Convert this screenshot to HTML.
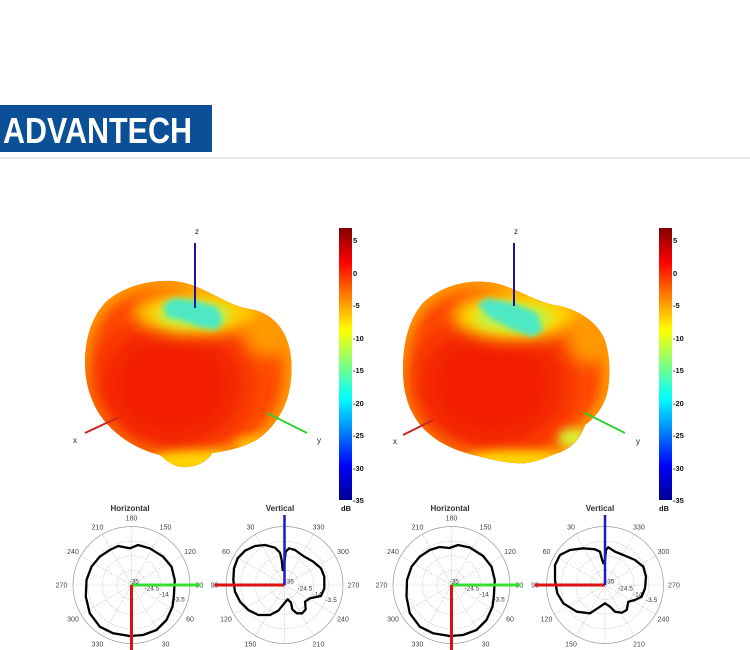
<!DOCTYPE html>
<html><head><meta charset="utf-8"><style>
html,body{margin:0;padding:0;background:#fff;}
body{width:750px;height:650px;overflow:hidden;}
svg{display:block;}
text{font-family:"Liberation Sans",Arial,sans-serif;}
</style></head><body>
<svg width="750" height="650" viewBox="0 0 750 650" xmlns="http://www.w3.org/2000/svg">
<defs>
 <filter id="b3" x="-50%" y="-50%" width="200%" height="200%"><feGaussianBlur stdDeviation="3"/></filter>
 <filter id="b5" x="-50%" y="-50%" width="200%" height="200%"><feGaussianBlur stdDeviation="5"/></filter>
 <filter id="b8" x="-50%" y="-50%" width="200%" height="200%"><feGaussianBlur stdDeviation="8"/></filter>
 <filter id="b18" x="-50%" y="-50%" width="200%" height="200%"><feGaussianBlur stdDeviation="18"/></filter>
 <linearGradient id="jet" x1="0" y1="1" x2="0" y2="0">
  <stop offset="0" stop-color="#00008f"/>
  <stop offset="0.125" stop-color="#0000ff"/>
  <stop offset="0.375" stop-color="#00ffff"/>
  <stop offset="0.625" stop-color="#ffff00"/>
  <stop offset="0.875" stop-color="#ff0000"/>
  <stop offset="1" stop-color="#800000"/>
 </linearGradient>
 <clipPath id="s1"><path id="p1" d="M85,363 C85,338 92,315 108,300 C125,286 150,280 172,281 C188,282 200,288 214,295 C226,301 236,307 250,309 C268,312 282,324 288,343 C294,362 292,390 284,407 C277,422 268,432 258,439 C245,447 228,451 212,453 C208,461 196,468 182,467 C172,466 166,460 160,455 C140,450 122,440 108,425 C94,410 85,388 85,363 Z"/></clipPath>
 <clipPath id="s2"><path d="M403,370 C403,345 408,318 425,301 C443,286 465,280 487,282 C500,283 510,288 522,293 C533,298 545,304 560,306 C578,310 597,322 604,338 C611,355 611,385 605,400 C600,412 592,420 585,425 C580,440 570,450 555,454 C540,460 528,465 515,463 C500,462 490,459 478,456 C460,452 440,445 425,430 C410,415 403,395 403,370 Z"/></clipPath>
</defs>

<!-- Logo -->
<rect x="0" y="105" width="212" height="47" fill="#0b4f96"/>
<text x="3" y="143" font-weight="bold" font-size="36" fill="#fff" textLength="189" lengthAdjust="spacingAndGlyphs">ADVANTECH</text>
<rect x="0" y="157.5" width="750" height="1.5" fill="#e3e3e3"/>

<!-- Left 3D shape -->
<g clip-path="url(#s1)">
 <rect x="70" y="260" width="240" height="220" fill="#ff5200"/>
 <path d="M85,363 C85,338 92,315 108,300 C125,286 150,280 172,281 C188,282 200,288 214,295 C226,301 236,307 250,309 C268,312 282,324 288,343 C294,362 292,390 284,407 C277,422 268,432 258,439 C245,447 228,451 212,453 C208,461 196,468 182,467 C172,466 166,460 160,455 C140,450 122,440 108,425 C94,410 85,388 85,363 Z" fill="none" stroke="#ff9800" stroke-width="16" filter="url(#b5)"/>
 <ellipse cx="172" cy="385" rx="78" ry="68" fill="#f21c00" filter="url(#b18)"/>
 <ellipse cx="268" cy="335" rx="24" ry="22" fill="#ff9a00" filter="url(#b8)"/>
 <ellipse cx="195" cy="462" rx="45" ry="12" fill="#ffd400" filter="url(#b5)"/>
 <ellipse cx="255" cy="445" rx="20" ry="8" fill="#ffc000" filter="url(#b5)"/>
 <ellipse cx="196" cy="313" rx="62" ry="22" fill="#ffd000" filter="url(#b8)"/>
 <ellipse cx="194" cy="315" rx="38" ry="13" fill="#c8f040" filter="url(#b5)"/>
 <polygon points="163,305 173,298 193,300 217,307 223,320 217,330 200,327 180,320 167,317" fill="#4ee8c4" filter="url(#b3)"/>
</g>
<line x1="195" y1="243" x2="195" y2="308" stroke="#1414a8" stroke-width="2"/>
<line x1="85" y1="433" x2="117" y2="418" stroke="#cc2222" stroke-width="2"/>
<line x1="267" y1="413" x2="307" y2="433" stroke="#33cc33" stroke-width="2"/>
<text x="197" y="234" font-size="8" text-anchor="middle" fill="#222">z</text>
<text x="75" y="443" font-size="8" text-anchor="middle" fill="#222">x</text>
<text x="319" y="443" font-size="8" text-anchor="middle" fill="#222">y</text>

<!-- Left colorbar -->
<rect x="339" y="228" width="13" height="272" fill="url(#jet)"/>
<g font-size="7.5" font-weight="bold" fill="#111">
 <text x="353" y="243">5</text>
 <text x="353" y="276">0</text>
 <text x="353" y="308">-5</text>
 <text x="353" y="341">-10</text>
 <text x="353" y="373">-15</text>
 <text x="353" y="406">-20</text>
 <text x="353" y="438">-25</text>
 <text x="353" y="471">-30</text>
 <text x="353" y="503">-35</text>
 <text x="346" y="511" text-anchor="middle">dB</text>
</g>

<!-- Right 3D shape -->
<g clip-path="url(#s2)">
 <rect x="390" y="260" width="240" height="220" fill="#ff5200"/>
 <path d="M403,370 C403,345 408,318 425,301 C443,286 465,280 487,282 C500,283 510,288 522,293 C533,298 545,304 560,306 C578,310 597,322 604,338 C611,355 611,385 605,400 C600,412 592,420 585,425 C580,440 570,450 555,454 C540,460 528,465 515,463 C500,462 490,459 478,456 C460,452 440,445 425,430 C410,415 403,395 403,370 Z" fill="none" stroke="#ff9800" stroke-width="16" filter="url(#b5)"/>
 <ellipse cx="492" cy="385" rx="80" ry="68" fill="#f21c00" filter="url(#b18)"/>
 <ellipse cx="590" cy="340" rx="22" ry="24" fill="#ff9a00" filter="url(#b8)"/>
 <ellipse cx="515" cy="460" rx="50" ry="10" fill="#ffd400" filter="url(#b5)"/>
 <ellipse cx="572" cy="438" rx="14" ry="10" fill="#d8f030" filter="url(#b5)"/>
 <ellipse cx="515" cy="316" rx="62" ry="24" fill="#ffd800" filter="url(#b8)"/>
 <ellipse cx="513" cy="318" rx="40" ry="14" fill="#c8f040" filter="url(#b5)"/>
 <polygon points="477,305 487,298 513,303 537,313 543,330 533,337 513,330 490,318" fill="#4ee8c4" filter="url(#b3)"/>
</g>
<line x1="514" y1="243" x2="514" y2="306" stroke="#1414a8" stroke-width="2"/>
<line x1="403" y1="435" x2="433" y2="420" stroke="#cc2222" stroke-width="2"/>
<line x1="585" y1="413" x2="625" y2="433" stroke="#33cc33" stroke-width="2"/>
<text x="516" y="234" font-size="8" text-anchor="middle" fill="#222">z</text>
<text x="395" y="444" font-size="8" text-anchor="middle" fill="#222">x</text>
<text x="638" y="444" font-size="8" text-anchor="middle" fill="#222">y</text>

<!-- Right colorbar -->
<rect x="659" y="228" width="13" height="272" fill="url(#jet)"/>
<g font-size="7.5" font-weight="bold" fill="#111">
 <text x="673" y="243">5</text>
 <text x="673" y="276">0</text>
 <text x="673" y="308">-5</text>
 <text x="673" y="341">-10</text>
 <text x="673" y="373">-15</text>
 <text x="673" y="406">-20</text>
 <text x="673" y="438">-25</text>
 <text x="673" y="471">-30</text>
 <text x="673" y="503">-35</text>
 <text x="664" y="511" text-anchor="middle">dB</text>
</g>

<!-- ===== Polar: left horizontal ===== -->
<text x="130" y="511" font-size="8" font-weight="bold" text-anchor="middle" fill="#333">Horizontal</text>
<g transform="translate(131.5,585)">
 <g fill="none" stroke="#aaa" stroke-width="0.6" stroke-dasharray="1 1.5">
  <circle r="14.6"/><circle r="29.2"/><circle r="43.8"/>
  <line x1="0" y1="-58.5" x2="0" y2="58.5"/>
  <line x1="-29.2" y1="-50.7" x2="29.2" y2="50.7"/>
  <line x1="-50.7" y1="-29.2" x2="50.7" y2="29.2"/>
  <line x1="-58.5" y1="0" x2="58.5" y2="0"/>
  <line x1="-50.7" y1="29.2" x2="50.7" y2="-29.2"/>
  <line x1="-29.2" y1="50.7" x2="29.2" y2="-50.7"/>
 </g>
 <circle r="58.5" fill="none" stroke="#999" stroke-width="0.7"/>
 <g font-size="7" fill="#444" text-anchor="middle">
  <text x="34" y="61.5">30</text>
  <text x="58.5" y="36.5">60</text>
  <text x="68" y="2.5">90</text>
  <text x="58.5" y="-31">120</text>
  <text x="34" y="-55.5">150</text>
  <text x="0" y="-64.5">180</text>
  <text x="-34" y="-55.5">210</text>
  <text x="-58.5" y="-31">240</text>
  <text x="-70" y="2.5">270</text>
  <text x="-58.5" y="36.5">300</text>
  <text x="-34" y="61.5">330</text>
 </g>
 <g font-size="6.5" fill="#333">
  <text x="-2" y="-1.5">-35</text>
  <text x="13" y="5.5">-24.5</text>
  <text x="28" y="11.5">-14</text>
  <text x="42" y="16.5">-3.5</text>
 </g>
 <polygon points="-21.7,-35 -13.4,-39 -1.7,-36.7 6.6,-40 18.3,-36.7 31.6,-28.3 40,-18.3 43.3,-5 42.3,11.7 41,21.7 35,35 25,45 11.6,50 -1.7,51 -18.4,48.3 -31.7,41.7 -41.7,28.3 -45.7,11.7 -45,-5 -40,-18.3 -31.7,-28.3" fill="none" stroke="#000" stroke-width="2.3" stroke-linejoin="round"/>
 <line x1="0" y1="0" x2="69" y2="0" stroke="#33dd33" stroke-width="3"/>
 <line x1="0" y1="0" x2="0" y2="70" stroke="#dd1111" stroke-width="3"/>
</g>

<!-- ===== Polar: left vertical ===== -->
<text x="280" y="511" font-size="8" font-weight="bold" text-anchor="middle" fill="#333">Vertical</text>
<g transform="translate(284.5,585)">
 <g fill="none" stroke="#aaa" stroke-width="0.6" stroke-dasharray="1 1.5">
  <circle r="14.6"/><circle r="29.2"/><circle r="43.8"/>
  <line x1="0" y1="-58.5" x2="0" y2="58.5"/>
  <line x1="-29.2" y1="-50.7" x2="29.2" y2="50.7"/>
  <line x1="-50.7" y1="-29.2" x2="50.7" y2="29.2"/>
  <line x1="-58.5" y1="0" x2="58.5" y2="0"/>
  <line x1="-50.7" y1="29.2" x2="50.7" y2="-29.2"/>
  <line x1="-29.2" y1="50.7" x2="29.2" y2="-50.7"/>
 </g>
 <circle r="58.5" fill="none" stroke="#999" stroke-width="0.7"/>
 <g font-size="7" fill="#444" text-anchor="middle">
  <text x="-34" y="-55.5">30</text>
  <text x="-58.5" y="-31">60</text>
  <text x="-70" y="2.5">90</text>
  <text x="-58.5" y="36.5">120</text>
  <text x="-34" y="61.5">150</text>
  <text x="34" y="61.5">210</text>
  <text x="58.5" y="36.5">240</text>
  <text x="69" y="2.5">270</text>
  <text x="58.5" y="-31">300</text>
  <text x="34" y="-55.5">330</text>
 </g>
 <g font-size="6.5" fill="#333">
  <text x="0" y="-1.5">-35</text>
  <text x="13" y="5.5">-24.5</text>
  <text x="28" y="11.5">-14</text>
  <text x="41" y="17">-3.5</text>
 </g>
 <polygon points="-1.8,-15 -2.8,-25 -4.5,-32.3 -9.5,-37.3 -19.5,-40 -29.5,-39 -39.5,-34.3 -46.8,-26.7 -50.5,-16.7 -51.2,-5 -49.5,6.7 -44.5,16.7 -36.2,25 -26.2,30 -14.5,30 -6.2,25.7 -0.2,18.3 3.2,14.3 6.5,17.7 7.8,24.3 12.2,28.3 17.8,28.3 21.2,24.3 20.5,16.7 25.5,13.3 36.5,11 39.8,3.3 39.8,-8.3 36.5,-16.7 28.8,-23.3 18.8,-29 10.5,-35 4.5,-36.7 1.2,-33.3 -0.2,-21.7" fill="none" stroke="#000" stroke-width="2.3" stroke-linejoin="round"/>
 <line x1="0" y1="0" x2="-70" y2="0" stroke="#dd1111" stroke-width="3"/>
 <line x1="0" y1="0" x2="0" y2="-70" stroke="#1a1acc" stroke-width="2.5"/>
</g>

<!-- ===== Polar: right horizontal ===== -->
<text x="450" y="511" font-size="8" font-weight="bold" text-anchor="middle" fill="#333">Horizontal</text>
<g transform="translate(451.5,585)">
 <g fill="none" stroke="#aaa" stroke-width="0.6" stroke-dasharray="1 1.5">
  <circle r="14.6"/><circle r="29.2"/><circle r="43.8"/>
  <line x1="0" y1="-58.5" x2="0" y2="58.5"/>
  <line x1="-29.2" y1="-50.7" x2="29.2" y2="50.7"/>
  <line x1="-50.7" y1="-29.2" x2="50.7" y2="29.2"/>
  <line x1="-58.5" y1="0" x2="58.5" y2="0"/>
  <line x1="-50.7" y1="29.2" x2="50.7" y2="-29.2"/>
  <line x1="-29.2" y1="50.7" x2="29.2" y2="-50.7"/>
 </g>
 <circle r="58.5" fill="none" stroke="#999" stroke-width="0.7"/>
 <g font-size="7" fill="#444" text-anchor="middle">
  <text x="34" y="61.5">30</text>
  <text x="58.5" y="36.5">60</text>
  <text x="68" y="2.5">90</text>
  <text x="58.5" y="-31">120</text>
  <text x="34" y="-55.5">150</text>
  <text x="0" y="-64.5">180</text>
  <text x="-34" y="-55.5">210</text>
  <text x="-58.5" y="-31">240</text>
  <text x="-70" y="2.5">270</text>
  <text x="-58.5" y="36.5">300</text>
  <text x="-34" y="61.5">330</text>
 </g>
 <g font-size="6.5" fill="#333">
  <text x="-2" y="-1.5">-35</text>
  <text x="13" y="5.5">-24.5</text>
  <text x="28" y="11.5">-14</text>
  <text x="42" y="16.5">-3.5</text>
 </g>
 <polygon points="-21.7,-35 -12,-38 -2,-37 6.6,-40 18.3,-37.5 31.6,-29 40,-18.3 43.3,-5 42.3,11.7 41,21.7 35,35 25,45 11.6,50 -1.7,51 -18.4,48.3 -31.7,41.7 -41.7,28.3 -45,11.7 -44.5,-5 -40,-18.3 -31.7,-28.3" fill="none" stroke="#000" stroke-width="2.3" stroke-linejoin="round"/>
 <line x1="0" y1="0" x2="69" y2="0" stroke="#33dd33" stroke-width="3"/>
 <line x1="0" y1="0" x2="0" y2="70" stroke="#dd1111" stroke-width="3"/>
</g>

<!-- ===== Polar: right vertical ===== -->
<text x="600" y="511" font-size="8" font-weight="bold" text-anchor="middle" fill="#333">Vertical</text>
<g transform="translate(605,585)">
 <g fill="none" stroke="#aaa" stroke-width="0.6" stroke-dasharray="1 1.5">
  <circle r="14.6"/><circle r="29.2"/><circle r="43.8"/>
  <line x1="0" y1="-58.5" x2="0" y2="58.5"/>
  <line x1="-29.2" y1="-50.7" x2="29.2" y2="50.7"/>
  <line x1="-50.7" y1="-29.2" x2="50.7" y2="29.2"/>
  <line x1="-58.5" y1="0" x2="58.5" y2="0"/>
  <line x1="-50.7" y1="29.2" x2="50.7" y2="-29.2"/>
  <line x1="-29.2" y1="50.7" x2="29.2" y2="-50.7"/>
 </g>
 <circle r="58.5" fill="none" stroke="#999" stroke-width="0.7"/>
 <g font-size="7" fill="#444" text-anchor="middle">
  <text x="-34" y="-55.5">30</text>
  <text x="-58.5" y="-31">60</text>
  <text x="-70" y="2.5">90</text>
  <text x="-58.5" y="36.5">120</text>
  <text x="-34" y="61.5">150</text>
  <text x="34" y="61.5">210</text>
  <text x="58.5" y="36.5">240</text>
  <text x="69" y="2.5">270</text>
  <text x="58.5" y="-31">300</text>
  <text x="34" y="-55.5">330</text>
 </g>
 <g font-size="6.5" fill="#333">
  <text x="0" y="-1.5">-35</text>
  <text x="13" y="5.5">-24.5</text>
  <text x="28" y="11.5">-14</text>
  <text x="41" y="17">-3.5</text>
 </g>
 <polygon points="-1.7,-21.7 -3.3,-26.7 -5,-33.3 -10,-35.7 -21.7,-36.7 -35,-35 -45,-30 -50,-20 -50,-5 -47.7,8.3 -41.7,18.3 -28.3,26.7 -15,28.3 -5,21.7 0,18.3 5,21.7 10,26.7 16.7,27.7 21.7,25 23.3,16.7 30,15 36.7,11.7 40,3.3 41,-8.3 38.3,-18.3 30,-25 18.3,-30 10,-33.3 3.3,-37.7 1,-35 0,-25" fill="none" stroke="#000" stroke-width="2.3" stroke-linejoin="round"/>
 <line x1="0" y1="0" x2="-70" y2="0" stroke="#dd1111" stroke-width="3"/>
 <line x1="0" y1="0" x2="0" y2="-70" stroke="#1a1acc" stroke-width="2.5"/>
</g>
</svg>
</body></html>
